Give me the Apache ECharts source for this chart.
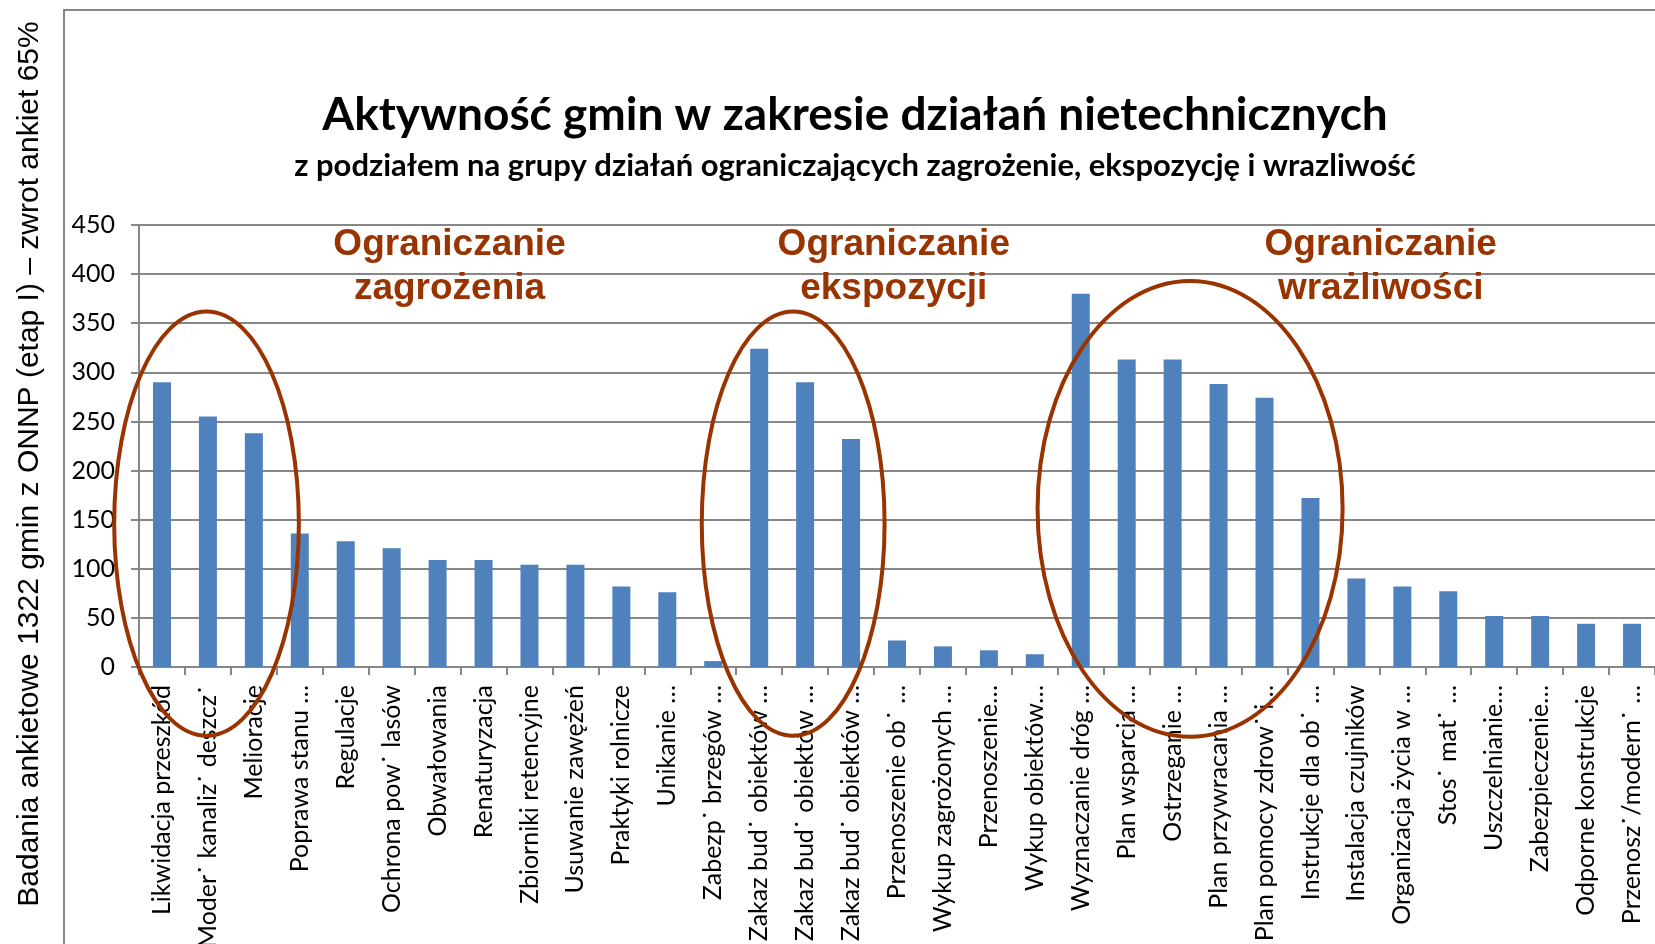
<!DOCTYPE html>
<html>
<head>
<meta charset="utf-8"/>
<title>Aktywność gmin w zakresie działań nietechnicznych</title>
<script src="https://cdn.jsdelivr.net/npm/echarts@6/dist/echarts.min.js"></script>
<style>
html,body{margin:0;padding:0;background:#fff}
#main{width:1655px;height:944px}
</style>
</head>
<body>
<div id="main"></div>
<script>
// kategorie dzialan (os X)
var categories = [
    'Likwidacja przeszkód', 'Moder˙ kanaliz˙ deszcz˙', 'Melioracje', 'Poprawa stanu …',
    'Regulacje', 'Ochrona pow˙ lasów', 'Obwałowania', 'Renaturyzacja',
    'Zbiorniki retencyjne', 'Usuwanie zawężeń', 'Praktyki rolnicze', 'Unikanie …',
    'Zabezp˙ brzegów …', 'Zakaz bud˙ obiektów …', 'Zakaz bud˙ obiektów …', 'Zakaz bud˙ obiektów …',
    'Przenoszenie ob˙ …', 'Wykup zagrożonych …', 'Przenoszenie…', 'Wykup obiektów…',
    'Wyznaczanie dróg …', 'Plan wsparcia …', 'Ostrzeganie …', 'Plan przywracania …',
    'Plan pomocy zdrow˙ i…', 'Instrukcje dla ob˙ …', 'Instalacja czujników', 'Organizacja życia w …',
    'Stos˙ mat˙ …', 'Uszczelnianie…', 'Zabezpieczenie…', 'Odporne konstrukcje',
    'Przenosz˙/modern˙ …'
];

// liczba gmin
var values = [
    290, 255, 238, 136,
    128, 121, 109, 109,
    104, 104, 82, 76,
    6, 324, 290, 232,
    27, 21, 17, 13,
    380, 313, 313, 288,
    274, 172, 90, 82,
    77, 52, 52, 44,
    44
];

var yMin = 0, yMax = 450, yStep = 50;

var titleText = 'Aktywność gmin w zakresie działań nietechnicznych';
var subtitleText = 'z podziałem na grupy działań ograniczających zagrożenie, ekspozycję i wrazliwość';
var yTitle = 'Badania ankietowe 1322 gmin z ONNP (etap I) – zwrot ankiet 65%';

// grupy dzialan
var groupNames = ['Ograniczanie\nzagrożenia', 'Ograniczanie\nekspozycji', 'Ograniczanie\nwrażliwości'];

// elipsy i podpisy grup, w jednostkach osi (indeks kategorii, wartosc)
var annotations = [
    {cx: 0.97,  cy: 146, rx: 2.01, ry: 216, lx: 6.26,  ly: 407},
    {cx: 13.74, cy: 146, rx: 1.99, ry: 216, lx: 15.93, ly: 407},
    {cx: 22.38, cy: 161, rx: 3.32, ry: 232, lx: 26.53, ly: 407}
];

var red = '#993300';
var gray = '#878787';

function renderGroup(params, api) {
    var a = annotations[params.dataIndex];
    var size = api.size([1, 1]);
    var band = size[0], unit = size[1];
    var base = api.coord([0, 0]);
    return {
        type: 'group',
        children: [{
            type: 'ellipse',
            shape: {
                cx: base[0] + a.cx * band,
                cy: base[1] - a.cy * unit,
                rx: a.rx * band,
                ry: a.ry * unit
            },
            style: {fill: 'none', stroke: red, lineWidth: 4}
        }, {
            type: 'text',
            style: {
                text: groupNames[params.dataIndex],
                x: base[0] + a.lx * band,
                y: base[1] - a.ly * unit,
                align: 'center',
                verticalAlign: 'middle',
                font: 'bold 37px "Liberation Sans", Arial, sans-serif',
                lineHeight: 44,
                fill: red
            }
        }]
    };
}

var chart = echarts.init(document.getElementById('main'));

var option = {
    animation: false,
    backgroundColor: '#fff',
    title: [{
        text: titleText,
        left: 855, top: 92, textAlign: 'center', padding: 0,
        textStyle: {fontFamily: 'Lato', fontWeight: 'bold', fontSize: 46, color: '#000'}
    }, {
        text: subtitleText,
        left: 855, top: 150, textAlign: 'center', padding: 0,
        textStyle: {fontFamily: 'Lato', fontWeight: 'bold', fontSize: 31, color: '#000'}
    }],
    graphic: [{
        type: 'rect',
        shape: {x: 64, y: 10, width: 1700, height: 1000},
        style: {fill: 'none', stroke: gray, lineWidth: 2},
        silent: true
    }, {
        type: 'text',
        x: 30, y: 464,
        rotation: Math.PI / 2,
        style: {
            text: yTitle,
            align: 'center',
            verticalAlign: 'middle',
            font: '30px "Liberation Sans", Arial, sans-serif',
            fill: '#000'
        }
    }],
    grid: {left: 139, right: 0, top: 225, bottom: 277, containLabel: false, outerBoundsMode: 'none'},
    xAxis: {
        type: 'category',
        data: categories,
        axisLine: {lineStyle: {color: gray, width: 2}},
        axisTick: {show: true, interval: 0, length: 8, lineStyle: {color: gray, width: 2}},
        axisLabel: {interval: 0, rotate: 90, margin: 18, fontFamily: 'Lato', fontSize: 25, color: '#000'}
    },
    yAxis: {
        type: 'value',
        min: yMin, max: yMax, interval: yStep,
        axisLine: {show: true, lineStyle: {color: gray, width: 2}},
        axisTick: {show: true, length: 8, lineStyle: {color: gray, width: 2}},
        splitLine: {show: true, lineStyle: {color: gray, width: 2}},
        axisLabel: {margin: 24, fontFamily: 'Lato', fontSize: 25, color: '#000'}
    },
    series: [{
        type: 'bar',
        data: values,
        barWidth: 18,
        itemStyle: {color: '#4F81BD'}
    }, {
        type: 'custom',
        clip: false,
        z: 5,
        silent: true,
        data: annotations.map(function () { return [0, 0]; }),
        renderItem: renderGroup
    }]
};

chart.setOption(option);
</script>
</body>
</html>
